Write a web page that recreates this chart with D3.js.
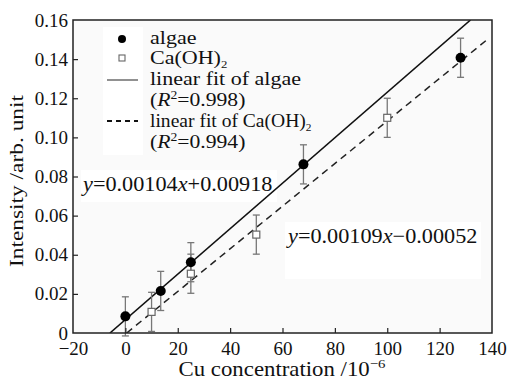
<!DOCTYPE html>
<html>
<head>
<meta charset="utf-8">
<script src="https://cdn.jsdelivr.net/npm/d3@7"></script>
<style>
  body { margin: 0; background: #fff; }
  text { font-family: "Liberation Serif", "Times New Roman", serif; fill: #111; }
</style>
</head>
<body>
<div id="chart"></div>
<script>
// data
const algaeX = [0, 13.5, 25, 68, 128];
const algaeY = [0.0085, 0.0215, 0.0362, 0.0862, 0.1407];
const algaeErr = [0.01, 0.01, 0.01, 0.01, 0.01];

const caX = [10, 25, 50, 100];
const caY = [0.0108, 0.0303, 0.0503, 0.110];
const caErr = [0.01, 0.01, 0.01, 0.01];

// fitted lines, as drawn (end points)
const algaeFitX = [-5.9, 131.8];
const algaeFitY = [0, 0.16];
const caFitX = [0.5, 138];
const caFitY = [0, 0.1498];

const xTicks = [-20, 0, 20, 40, 60, 80, 100, 120, 140];
const yTicks = [0, 0.02, 0.04, 0.06, 0.08, 0.10, 0.12, 0.14, 0.16];

const W = 509, H = 380;
const margin = { top: 20, right: 17, bottom: 47, left: 73 };
const width = W - margin.left - margin.right;
const height = H - margin.top - margin.bottom;

const svg = d3.select('#chart')
  .append('svg')
  .attr('width', W)
  .attr('height', H);

const g = svg.append('g')
  .attr('transform', `translate(${margin.left},${margin.top})`);

const x = d3.scaleLinear().domain([-20, 140]).range([0, width]);
const y = d3.scaleLinear().domain([0, 0.16]).range([height, 0]);

// text helper: the source font is wider than Times, so stretch a bit
function stext(parent, px, py, sx, size, anchor) {
  return parent.append('g')
    .attr('transform', `translate(${px},${py}) scale(${sx},1)`)
    .append('text')
    .attr('text-anchor', anchor || 'start')
    .style('font-size', size + 'px');
}

// plot background
g.append('rect')
  .attr('width', width).attr('height', height)
  .attr('fill', '#fafafa');

// white boxes behind the equations
g.append('rect')
  .attr('x', 8).attr('y', 150).attr('width', 196).attr('height', 32)
  .attr('fill', '#fff');
g.append('rect')
  .attr('x', 212).attr('y', 202).attr('width', 196).attr('height', 57)
  .attr('fill', '#fff');

// clip for fit lines
svg.append('defs').append('clipPath').attr('id', 'clip')
  .append('rect').attr('width', width).attr('height', height);

const line = d3.line().x(d => x(d[0])).y(d => y(d[1]));

g.append('path')
  .datum(d3.zip(algaeFitX, algaeFitY))
  .attr('d', line)
  .attr('clip-path', 'url(#clip)')
  .attr('fill', 'none')
  .attr('stroke', '#111')
  .attr('stroke-width', 1.6);

g.append('path')
  .datum(d3.zip(caFitX, caFitY))
  .attr('d', line)
  .attr('clip-path', 'url(#clip)')
  .attr('fill', 'none')
  .attr('stroke', '#222')
  .attr('stroke-width', 1.5)
  .attr('stroke-dasharray', '7,5');

// error bars
function errorBars(xs, ys, es) {
  const data = d3.zip(xs, ys, es);
  const eb = g.append('g').attr('stroke', '#777').attr('stroke-width', 1.3);
  eb.selectAll('.v').data(data).enter().append('line')
    .attr('x1', d => x(d[0])).attr('x2', d => x(d[0]))
    .attr('y1', d => y(d[1] - d[2])).attr('y2', d => y(d[1] + d[2]));
  eb.selectAll('.t').data(data).enter().append('line')
    .attr('x1', d => x(d[0]) - 3.5).attr('x2', d => x(d[0]) + 3.5)
    .attr('y1', d => y(d[1] + d[2])).attr('y2', d => y(d[1] + d[2]));
  eb.selectAll('.b').data(data).enter().append('line')
    .attr('x1', d => x(d[0]) - 3.5).attr('x2', d => x(d[0]) + 3.5)
    .attr('y1', d => y(d[1] - d[2])).attr('y2', d => y(d[1] - d[2]));
}
errorBars(caX, caY, caErr);
errorBars(algaeX, algaeY, algaeErr);

g.selectAll('.sq')
  .data(d3.zip(caX, caY))
  .enter().append('rect')
  .attr('x', d => x(d[0]) - 3.5)
  .attr('y', d => y(d[1]) - 3.5)
  .attr('width', 7).attr('height', 7)
  .attr('fill', '#fff')
  .attr('stroke', '#666')
  .attr('stroke-width', 1.2);

g.selectAll('.dot')
  .data(d3.zip(algaeX, algaeY))
  .enter().append('circle')
  .attr('cx', d => x(d[0]))
  .attr('cy', d => y(d[1]))
  .attr('r', 5)
  .attr('fill', '#000');

// axes, ticks inward
const xAxis = d3.axisBottom(x).tickValues(xTicks)
  .tickSizeInner(-5).tickSizeOuter(0).tickPadding(9)
  .tickFormat(d => d < 0 ? '\u2212' + Math.abs(d) : d);
const yAxis = d3.axisLeft(y).tickValues(yTicks)
  .tickSizeInner(-5).tickSizeOuter(0).tickPadding(5)
  .tickFormat(d => d === 0 ? '0' : d3.format('.2f')(d));

g.append('g')
  .attr('class', 'x axis')
  .attr('transform', `translate(0,${height})`)
  .call(xAxis);
g.append('g')
  .attr('class', 'y axis')
  .call(yAxis);

g.selectAll('.axis .domain').remove();
g.selectAll('.axis .tick line').attr('stroke', '#222').attr('stroke-width', 1.2);
g.selectAll('.axis text')
  .style('font-family', '"Liberation Serif", serif')
  .style('font-size', '19px')
  .attr('fill', '#111');
g.selectAll('.y.axis .tick').filter(d => d === 0.16 || d === 0).select('line').remove();
g.selectAll('.x.axis .tick').filter(d => d === -20 || d === 140).select('line').remove();

// frame
g.append('rect')
  .attr('width', width).attr('height', height)
  .attr('fill', 'none')
  .attr('stroke', '#222')
  .attr('stroke-width', 1.5);

// axis titles
const xt = stext(svg, 282, 376, 1.14, 20, 'middle').text('Cu concentration /10');
xt.append('tspan').attr('dy', -8).style('font-size', '13px').text('\u22126');

svg.append('g')
  .attr('transform', 'translate(23,181) rotate(-90) scale(1.3,1)')
  .append('text')
  .attr('text-anchor', 'middle')
  .style('font-size', '18px')
  .text('Intensity /arb. unit');

// legend
const lg = svg.append('g');
lg.append('rect').attr('x', 103).attr('y', 27).attr('width', 40).attr('height', 128).attr('fill', '#fff');
lg.append('circle').attr('cx', 122).attr('cy', 39).attr('r', 4).attr('fill', '#000');
lg.append('rect').attr('x', 119).attr('y', 55).attr('width', 6).attr('height', 6)
  .attr('fill', '#fff').attr('stroke', '#666').attr('stroke-width', 1.1);
lg.append('line').attr('x1', 107).attr('x2', 138).attr('y1', 80).attr('y2', 80)
  .attr('stroke', '#555').attr('stroke-width', 1.3);
lg.append('line').attr('x1', 107).attr('x2', 138).attr('y1', 121).attr('y2', 121)
  .attr('stroke', '#111').attr('stroke-width', 2).attr('stroke-dasharray', '5,4');

stext(lg, 150, 44, 1.16, 19).text('algae');
const ca = stext(lg, 150, 64, 1.16, 19).text('Ca(OH)');
ca.append('tspan').attr('dy', 4).style('font-size', '11px').text('2');
stext(lg, 150, 85, 1.16, 19).text('linear fit of algae');
const r1 = stext(lg, 150, 106, 1.14, 19).text('(');
r1.append('tspan').style('font-style', 'italic').text('R');
r1.append('tspan').attr('dy', -7).style('font-size', '12px').text('2');
r1.append('tspan').attr('dy', 7).text('=0.998)');
const l2 = stext(lg, 150, 127, 1.03, 19).text('linear fit of Ca(OH)');
l2.append('tspan').attr('dy', 4).style('font-size', '11px').text('2');
const r2 = stext(lg, 150, 148, 1.14, 19).text('(');
r2.append('tspan').style('font-style', 'italic').text('R');
r2.append('tspan').attr('dy', -7).style('font-size', '12px').text('2');
r2.append('tspan').attr('dy', 7).text('=0.994)');

// fit equations
function equation(px, py, a, sign, b) {
  const t = stext(svg, px, py, 1.06, 21);
  t.append('tspan').style('font-style', 'italic').text('y');
  t.append('tspan').text('=' + a);
  t.append('tspan').style('font-style', 'italic').text('x');
  t.append('tspan').text(sign + b);
}
equation(83, 191, '0.00104', '+', '0.00918');
equation(288, 243, '0.00109', '\u2212', '0.00052');
</script>
</body>
</html>
